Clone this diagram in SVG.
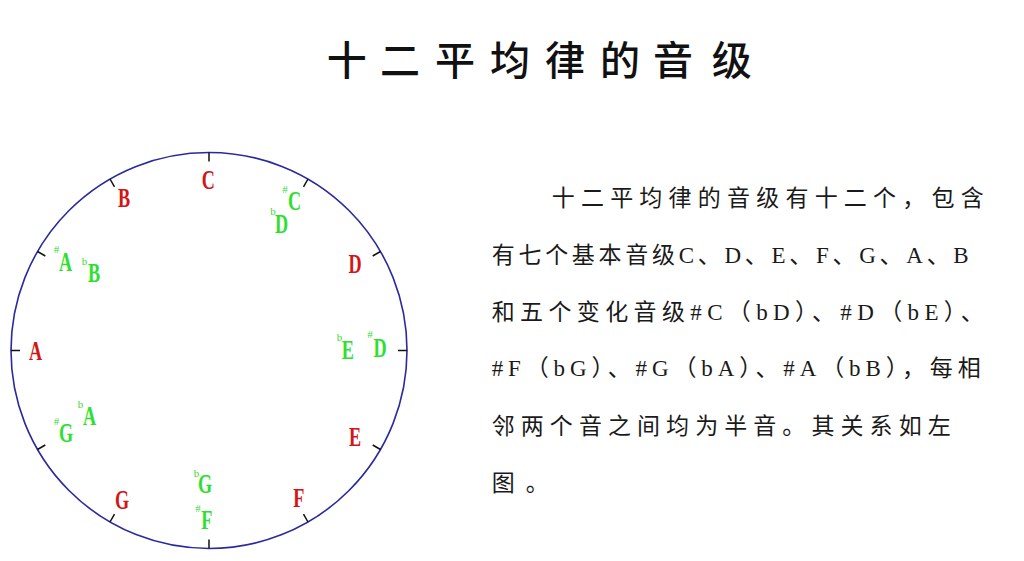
<svg xmlns="http://www.w3.org/2000/svg" width="1024" height="561" viewBox="0 0 1024 561">
<style>
.title{font-family:"Noto Sans CJK SC",sans-serif;font-size:40px;font-weight:500;fill:#111;text-anchor:middle}
.para{font-family:"Liberation Serif","Noto Sans CJK SC",serif;font-size:23px;fill:#1a1a1a}
.r{font-family:"Liberation Serif",serif;font-size:28px;font-weight:bold;fill:#d41515;text-anchor:middle}
.g{font-family:"Liberation Serif",serif;font-size:28px;font-weight:bold;fill:#2ee02e;text-anchor:middle}
.s{font-family:"Liberation Serif",serif;font-size:11px;fill:#3ad83a;text-anchor:middle}
.ring{fill:none;stroke:#2a2a9e;stroke-width:1.6}
.tick{fill:none;stroke:#111;stroke-width:1.5}
</style>
<rect width="1024" height="561" fill="#fff"/>
<g id="title"><text class="title" x="346.7 400 455 510 565 620 673 731.7" y="75">十二平均律的音级</text></g>
<g id="wheel">
<circle class="ring" cx="209" cy="350.5" r="198"/>
<path class="tick" d="M209 152.5V161.5M308 179L303.5 186.8M380.5 251.5L372.7 256M407 350.5H398M380.5 449.5L372.7 445M308 522L303.5 514.2M209 548.5V539.5M110 522L114.5 514.2M37.5 449.5L45.3 445M11 350.5H20M37.5 251.5L45.3 256M110 179L114.5 186.8"/>
</g>
<g id="natural-notes">
<g id="note-C"><text class="r" transform="translate(208.3,189.3) scale(0.65,1)">C</text></g>
<g id="note-D"><text class="r" transform="translate(355,272.7) scale(0.65,1)">D</text></g>
<g id="note-E"><text class="r" transform="translate(355,446) scale(0.65,1)">E</text></g>
<g id="note-F"><text class="r" transform="translate(298.8,506.7) scale(0.65,1)">F</text></g>
<g id="note-G"><text class="r" transform="translate(122,509) scale(0.65,1)">G</text></g>
<g id="note-A"><text class="r" transform="translate(35.5,360) scale(0.65,1)">A</text></g>
<g id="note-B"><text class="r" transform="translate(124,206.7) scale(0.65,1)">B</text></g>
</g>
<g id="altered-notes">
<g id="note-sharpC"><text class="s" x="285" y="193">#</text><text class="g" transform="translate(294.5,210) scale(0.65,1)">C</text></g>
<g id="note-flatD"><text class="s" x="273" y="215">b</text><text class="g" transform="translate(281.7,232.7) scale(0.65,1)">D</text></g>
<g id="note-flatE"><text class="s" x="339.5" y="340.7">b</text><text class="g" transform="translate(347.8,359) scale(0.65,1)">E</text></g>
<g id="note-sharpD"><text class="s" x="370" y="338">#</text><text class="g" transform="translate(380,357.3) scale(0.65,1)">D</text></g>
<g id="note-flatG"><text class="s" x="196.5" y="476.7">b</text><text class="g" transform="translate(205,492.7) scale(0.65,1)">G</text></g>
<g id="note-sharpF"><text class="s" x="198" y="511.7">#</text><text class="g" transform="translate(206.7,529) scale(0.65,1)">F</text></g>
<g id="note-flatA"><text class="s" x="80.5" y="408.3">b</text><text class="g" transform="translate(89.5,425) scale(0.65,1)">A</text></g>
<g id="note-sharpG"><text class="s" x="56.5" y="425">#</text><text class="g" transform="translate(66,441.7) scale(0.65,1)">G</text></g>
<g id="note-sharpA"><text class="s" x="56.5" y="252.7">#</text><text class="g" transform="translate(65.5,271) scale(0.65,1)">A</text></g>
<g id="note-flatB"><text class="s" x="84.5" y="265">b</text><text class="g" transform="translate(94,281.7) scale(0.65,1)">B</text></g>
</g>
<g id="description">
<text class="para" x="551.7" y="206" textLength="432" lengthAdjust="spacing">十二平均律的音级有十二个，包含</text>
<text class="para" x="491.7" y="263" textLength="477" lengthAdjust="spacing">有七个基本音级C、D、E、F、G、A、B</text>
<text class="para" x="491.7" y="320" textLength="492" lengthAdjust="spacing">和五个变化音级#C（bD）、#D（bE）、</text>
<text class="para" x="491.7" y="376" textLength="489" lengthAdjust="spacing">#F（bG）、#G（bA）、#A（bB），每相</text>
<text class="para" x="491.7" y="434" textLength="459" lengthAdjust="spacing">邻两个音之间均为半音。其关系如左</text>
<text class="para" x="491.7" y="491" textLength="57" lengthAdjust="spacing">图。</text>
</g>
</svg>
